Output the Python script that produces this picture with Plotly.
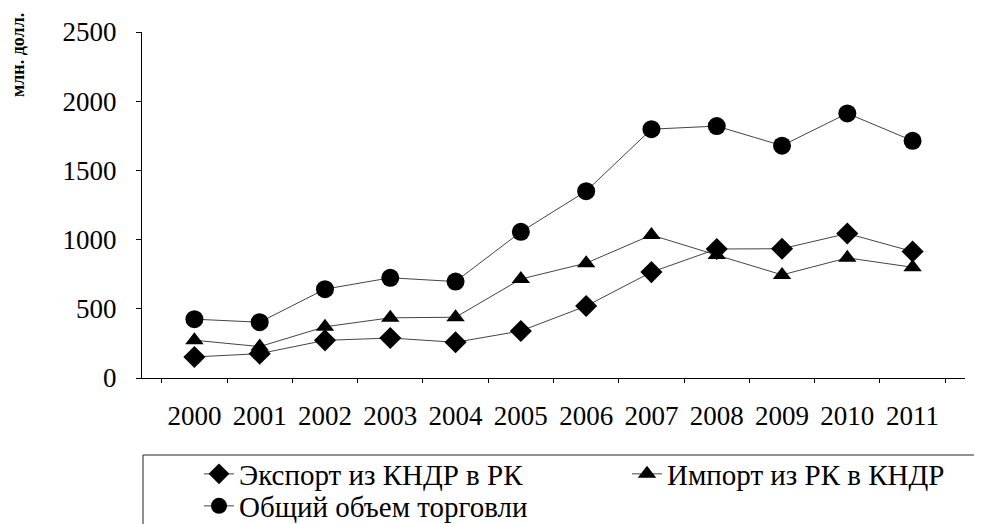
import plotly.graph_objects as go

years = ["2000", "2001", "2002", "2003", "2004", "2005", "2006", "2007", "2008", "2009", "2010", "2011"]
export_nk_sk = [152, 176, 272, 289, 258, 340, 520, 765, 932, 934, 1044, 914]
import_sk_nk = [273, 227, 370, 435, 439, 715, 830, 1033, 888, 745, 868, 800]
total_trade = [425, 403, 642, 724, 697, 1056, 1350, 1798, 1820, 1679, 1912, 1714]
y_ticks = [0, 500, 1000, 1500, 2000, 2500]

FONT = "Liberation Serif, Times New Roman, serif"
W, H = 982, 524
OFF = 8  # page body margin offset
# plot area in screenshot pixels
X0, X1, Y0, Y1 = 142, 965, 32, 378
ML, MR, MT, MB = X0 - OFF, W - (X1 - OFF), Y0 - OFF, H - (Y1 - OFF)

def px_x(p):
    return (p - X0) / (X1 - X0)

def px_y(p):
    return (Y1 - p) / (Y1 - Y0)

fig = go.Figure()
line = dict(color="#444444", width=1)
fig.add_trace(go.Scatter(x=years, y=export_nk_sk, mode="lines+markers", name="Экспорт из КНДР в РК",
                         line=line, marker=dict(symbol="diamond", size=17, color="black"),
                         legend="legend"))
fig.add_trace(go.Scatter(x=years, y=import_sk_nk, mode="lines+markers", name="Импорт из РК в КНДР",
                         line=line, marker=dict(symbol="triangle-up", size=16, color="black"),
                         legend="legend2"))
fig.add_trace(go.Scatter(x=years, y=total_trade, mode="lines+markers", name="Общий объем торговли",
                         line=line, marker=dict(symbol="circle", size=18, color="black"),
                         legend="legend3"))

def leg(xp, yp):
    return dict(x=px_x(xp), y=px_y(yp), xanchor="left", yanchor="middle",
                font=dict(family=FONT, size=29, color="black"), bgcolor="rgba(0,0,0,0)")

fig.update_layout(
    width=W, height=H,
    margin=dict(l=ML, r=MR, t=MT, b=MB, autoexpand=False),
    paper_bgcolor="white", plot_bgcolor="white",
    font=dict(family=FONT, size=20, color="black"),
    showlegend=True,
    legend=leg(199, 474),
    legend2=leg(627, 474),
    legend3=leg(199, 506),
    xaxis=dict(type="category", showline=True, linecolor="black", linewidth=1,
               ticks="outside", ticklen=4, tickcolor="black", tickson="boundaries",
               showgrid=False, zeroline=False, ticklabelstandoff=14,
               tickfont=dict(family=FONT, size=27)),
    yaxis=dict(range=[0, 2500], tickvals=y_ticks, showline=True, linecolor="black", linewidth=1,
               ticks="outside", ticklen=5, tickcolor="black", showgrid=False, zeroline=False,
               ticklabelstandoff=14, tickfont=dict(family=FONT, size=27)),
    shapes=[dict(type="rect", xref="paper", yref="paper",
                 x0=px_x(143), x1=px_x(995), y0=px_y(455), y1=px_y(545),
                 line=dict(color="#222222", width=1), fillcolor="rgba(0,0,0,0)")],
    annotations=[dict(text="<b>млн. долл.</b>", xref="paper", yref="paper", x=px_x(18), y=px_y(55),
                      xanchor="center", yanchor="middle", textangle=-90, showarrow=False,
                      font=dict(family=FONT, size=18, color="black"))],
)

fig.write_html("out.html")
